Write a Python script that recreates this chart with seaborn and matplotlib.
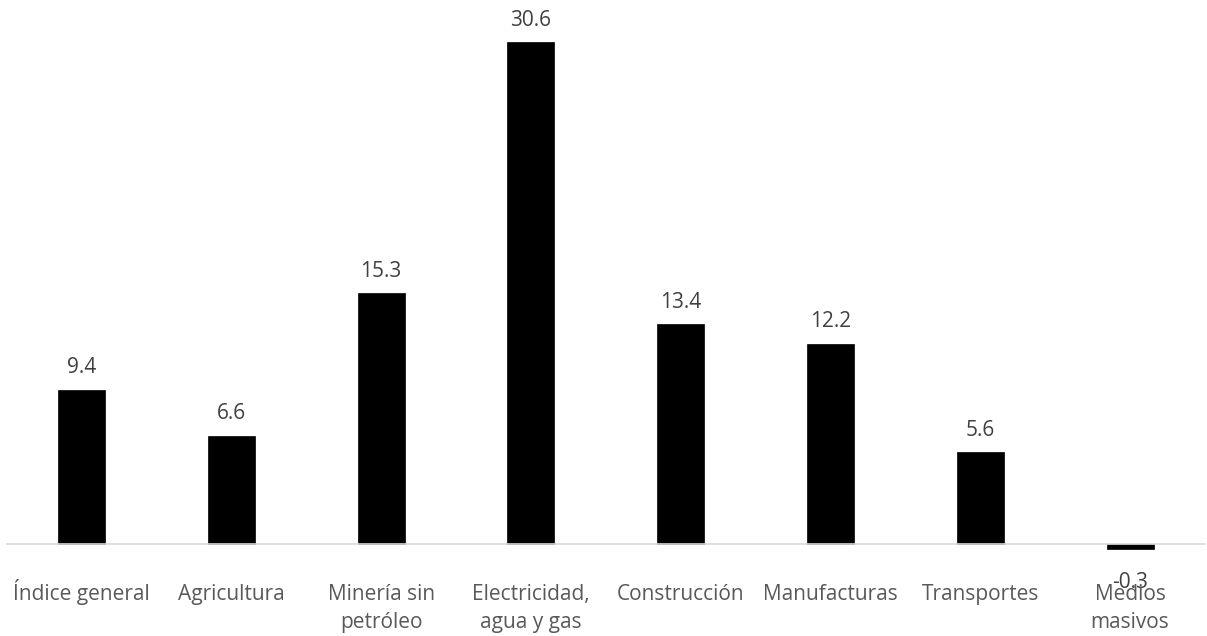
import matplotlib
matplotlib.use("Agg")
import matplotlib.pyplot as plt
import matplotlib.transforms as mtransforms
import seaborn as sns
import pandas as pd

categories = ["Índice general", "Agricultura", "Minería sin\npetróleo",
              "Electricidad,\nagua y gas", "Construcción", "Manufacturas",
              "Transportes", "Medios\nmasivos"]
values = [9.4, 6.6, 15.3, 30.6, 13.4, 12.2, 5.6, -0.3]
value_labels = ["9.4", "6.6", "15.3", "30.6", "13.4", "12.2", "5.6", "-0.3"]

sns.set_style("white")
plt.rcParams["font.family"] = ["Open Sans", "DejaVu Sans"]

df = pd.DataFrame({"sector": categories, "valor": values})

fig = plt.figure(figsize=(12.07, 6.36), dpi=100)
ax = fig.add_axes([6.6 / 1207, 36 / 636, 1198.4 / 1207, 600 / 636])

sns.barplot(data=df, x="sector", y="valor", color="black", width=0.314,
            saturation=1, ax=ax, edgecolor="black", linewidth=0.5)

ax.set_xlim(-0.5, len(categories) - 0.5)
ax.set_ylim(-3.417, 33.19)

# zero line doubles as the category axis
for s in ["left", "right", "top"]:
    ax.spines[s].set_visible(False)
ax.spines["bottom"].set_position(("data", 0))
ax.spines["bottom"].set_color("#d9d9d9")
ax.spines["bottom"].set_linewidth(1.2)
ax.set_yticks([])
ax.set_xlabel("")
ax.set_ylabel("")
ax.tick_params(axis="x", length=0, labelbottom=False)

# category names, one baseline per line so every first line sits level
base = ax.get_xaxis_transform()
for i, name in enumerate(categories):
    for k, line in enumerate(name.split("\n")):
        tr = mtransforms.offset_copy(base, fig=fig, y=-28 * k * 0.72,
                                     units="points")
        ax.text(ax.get_xticks()[i], 0, line, transform=tr, ha="center",
                va="baseline", fontsize=15, color="#595959", clip_on=False)

for i, (v, t) in enumerate(zip(values, value_labels)):
    if v >= 0:
        ax.annotate(t, (i, v), xytext=(0, 12), textcoords="offset points",
                    ha="center", va="baseline", fontsize=15, color="#404040")
    else:
        ax.annotate(t, (i, v), xytext=(0, -28), textcoords="offset points",
                    ha="center", va="baseline", fontsize=15, color="#404040")

fig.savefig("out.png", dpi=100)
